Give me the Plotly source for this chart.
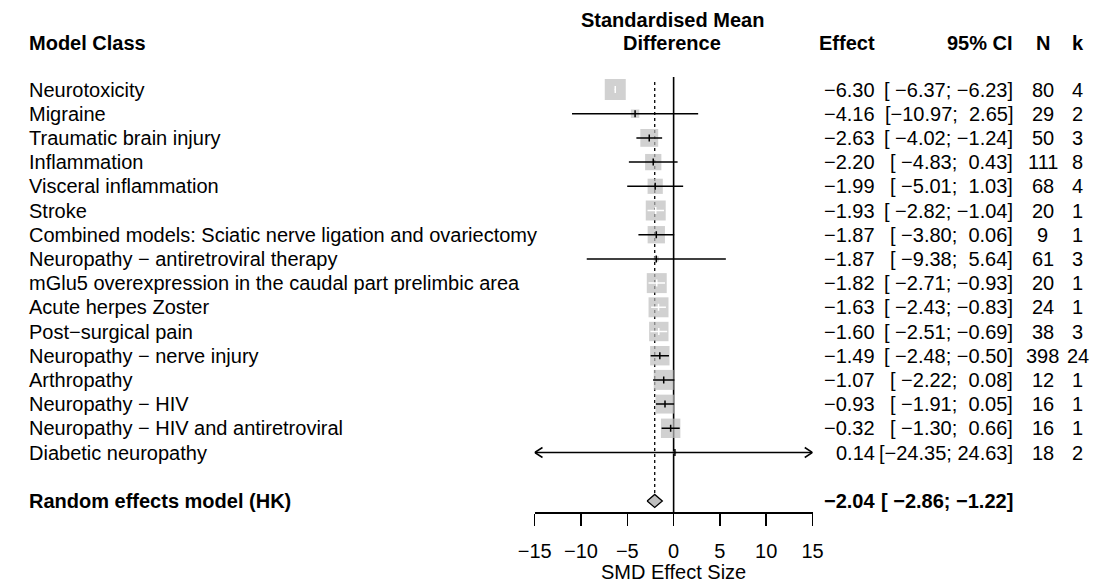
import math
import plotly.graph_objects as go

# ---------------- data ----------------
classes = [
    "Neurotoxicity",
    "Migraine",
    "Traumatic brain injury",
    "Inflammation",
    "Visceral inflammation",
    "Stroke",
    "Combined models: Sciatic nerve ligation and ovariectomy",
    "Neuropathy \u2212 antiretroviral therapy",
    "mGlu5 overexpression in the caudal part prelimbic area",
    "Acute herpes Zoster",
    "Post\u2212surgical pain",
    "Neuropathy \u2212 nerve injury",
    "Arthropathy",
    "Neuropathy \u2212 HIV",
    "Neuropathy \u2212 HIV and antiretroviral",
    "Diabetic neuropathy",
]
effect = [-6.30, -4.16, -2.63, -2.20, -1.99, -1.93, -1.87, -1.87,
          -1.82, -1.63, -1.60, -1.49, -1.07, -0.93, -0.32, 0.14]
lower = [-6.37, -10.97, -4.02, -4.83, -5.01, -2.82, -3.80, -9.38,
         -2.71, -2.43, -2.51, -2.48, -2.22, -1.91, -1.30, -24.35]
upper = [-6.23, 2.65, -1.24, 0.43, 1.03, -1.04, 0.06, 5.64,
         -0.93, -0.83, -0.69, -0.50, 0.08, 0.05, 0.66, 24.63]
n_obs = [80, 29, 50, 111, 68, 20, 9, 61, 20, 24, 38, 398, 12, 16, 16, 18]
k_studies = [4, 2, 3, 8, 4, 1, 1, 3, 1, 1, 3, 24, 1, 1, 1, 2]
# relative weights (%) estimated from square sizes
weight = [9.29, 1.49, 6.71, 5.58, 4.88, 8.39, 6.32, 0.58,
          8.39, 8.39, 7.95, 7.95, 8.39, 7.53, 7.95, 0.21]

re_label = "Random effects model (HK)"
re_est, re_lo, re_hi = -2.04, -2.86, -1.22

x_ticks = [-15, -10, -5, 0, 5, 10, 15]
x_title = "SMD Effect Size"
hdr_left = "Model Class"
hdr_plot = ["Standardised Mean", "Difference"]
hdr_effect, hdr_ci, hdr_n, hdr_k = "Effect", "95% CI", "N", "k"

# ---------------- geometry / style ----------------
W, H = 1117, 586
FONT = "Liberation Sans, Arial, Helvetica, sans-serif"
FS = 20
row0_px = 89.5          # pixel of first row centre
row_px = 24.2           # pixels per row
axis_px = 512           # pixel of x axis line
x_dom = [531 / W, 816 / W]
xmin, xmax = x_ticks[0], x_ticks[-1]
ppu = (x_dom[1] - x_dom[0]) * W / (xmax - xmin)
y_range = [(axis_px - row0_px) / row_px, -row0_px / row_px]
SQ = "#bebebe"
max_side = 21

n = len(classes)
rows = list(range(n))
re_row = n + 1


def px2row(p):
    return (p - row0_px) / row_px


hdr_row = px2row(43)
hdr_row_top = px2row(20)


def xp(px):
    return px / W


NB = "\u00a0"


def fmt(v):
    return f"{v:.2f}".replace("-", "\u2212")


def ci_str(lo, hi):
    return ("[" + fmt(lo).rjust(6).replace(" ", NB) + ";" + NB
            + fmt(hi).rjust(5).replace(" ", NB) + "]")


fig = go.Figure()

# squares
wmax = max(weight)
sides = [max_side * math.sqrt(w / wmax) for w in weight]
fig.add_trace(go.Scatter(
    x=effect, y=rows, mode="markers",
    marker=dict(symbol="square", size=sides, color=SQ, line=dict(width=0)),
    hoverinfo="skip", showlegend=False, cliponaxis=False))

# CI lines and estimate ticks
bx, by, wx, wy = [], [], [], []
tick_h = 3.5 / row_px
ah_dx, ah_dy = 8 / ppu, 5 / row_px
for i in rows:
    lo, hi = max(lower[i], xmin), min(upper[i], xmax)
    inside = (upper[i] - lower[i]) * ppu < sides[i] - 1
    xs, ys = (wx, wy) if inside else (bx, by)
    xs += [lo, hi, None, effect[i], effect[i], None]
    ys += [i, i, None, i - tick_h, i + tick_h, None]
    if lower[i] < xmin:
        bx += [xmin + ah_dx, xmin, xmin + ah_dx, None]
        by += [i - ah_dy, i, i + ah_dy, None]
    if upper[i] > xmax:
        bx += [xmax - ah_dx, xmax, xmax - ah_dx, None]
        by += [i - ah_dy, i, i + ah_dy, None]

fig.add_trace(go.Scatter(x=bx, y=by, mode="lines",
                         line=dict(color="black", width=1.5),
                         hoverinfo="skip", showlegend=False, cliponaxis=False))
fig.add_trace(go.Scatter(x=wx, y=wy, mode="lines",
                         line=dict(color="white", width=1.5),
                         hoverinfo="skip", showlegend=False, cliponaxis=False))

# diamond
dh = 6.5 / row_px
fig.add_trace(go.Scatter(
    x=[re_lo, re_est, re_hi, re_est, re_lo],
    y=[re_row, re_row - dh, re_row, re_row + dh, re_row],
    mode="lines", fill="toself", fillcolor=SQ,
    line=dict(color="black", width=1.3),
    hoverinfo="skip", showlegend=False, cliponaxis=False))

# reference lines
fig.add_shape(type="line", xref="x", yref="y", x0=0, x1=0,
              y0=px2row(77), y1=y_range[0],
              line=dict(color="black", width=1.6), layer="below")
fig.add_shape(type="line", xref="x", yref="y", x0=re_est, x1=re_est,
              y0=px2row(82), y1=re_row - dh,
              line=dict(color="black", width=1.3, dash="3px,3px"), layer="below")

# text
ann = []


def add_text(text, x_px, row, anchor, bold=False):
    ann.append(dict(
        x=xp(x_px), xref="paper", y=row, yref="y",
        text=f"<b>{text}</b>" if bold else text,
        xanchor=anchor, yanchor="middle", showarrow=False,
        borderpad=0,
        font=dict(family=FONT, size=FS, color="black")))


add_text(hdr_left, 11, hdr_row, "left", True)
add_text(hdr_plot[0], 672, hdr_row_top, "center", True)
add_text(hdr_plot[1], 672, hdr_row, "center", True)
add_text(hdr_effect, 881, hdr_row, "right", True)
add_text(hdr_ci, 1023, hdr_row, "right", True)
add_text(hdr_n, 1052, hdr_row, "center", True)
add_text(hdr_k, 1088, hdr_row, "center", True)

for i in rows:
    add_text(classes[i], 11, i, "left")
    add_text(fmt(effect[i]), 881, i, "right")
    add_text(ci_str(lower[i], upper[i]), 1023, i, "right")
    add_text(str(n_obs[i]), 1052, i, "center")
    add_text(str(k_studies[i]), 1088, i, "center")

add_text(re_label, 11, re_row, "left", True)
add_text(fmt(re_est), 881, re_row, "right", True)
add_text(ci_str(re_lo, re_hi), 1023, re_row, "right", True)

ann.append(dict(x=(x_dom[0] + x_dom[1]) / 2, xref="paper",
                y=-(572 - axis_px) / axis_px, yref="paper",
                text=x_title, xanchor="center", yanchor="middle",
                showarrow=False, borderpad=0,
                font=dict(family=FONT, size=FS, color="black")))

fig.update_layout(
    width=W, height=H,
    margin=dict(l=0, r=0, t=0, b=H - axis_px, pad=0),
    paper_bgcolor="white", plot_bgcolor="white",
    annotations=ann, showlegend=False, hovermode=False,
    xaxis=dict(domain=x_dom, range=[xmin, xmax], tickvals=x_ticks,
               ticktext=[fmt(t).replace(".00", "") for t in x_ticks],
               showgrid=False, zeroline=False, showline=True,
               linecolor="black", linewidth=1.5,
               ticks="outside", ticklen=12, tickwidth=1.5, tickcolor="black",
               ticklabelstandoff=8,
               tickfont=dict(family=FONT, size=FS, color="black"),
               fixedrange=True),
    yaxis=dict(range=y_range, visible=False, fixedrange=True),
)

fig.write_html(
    "out.html",
    config={"displayModeBar": False, "staticPlot": True},
    post_script="document.body.style.margin='0';document.body.style.overflow='hidden';",
)
